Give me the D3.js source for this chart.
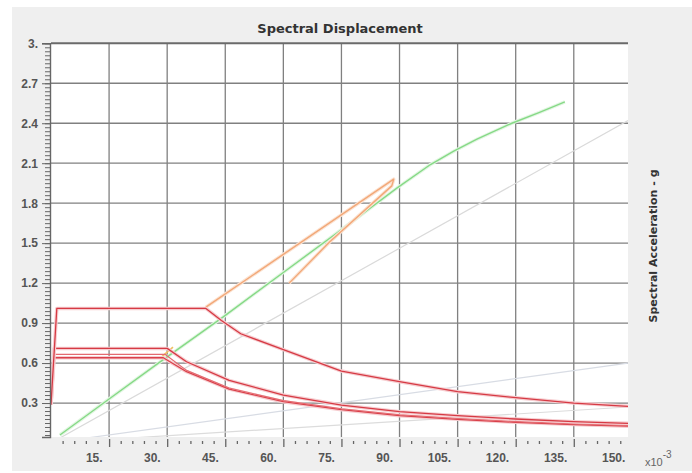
<!DOCTYPE html>
<html>
<head>
<meta charset="utf-8">
<script src="https://cdn.jsdelivr.net/npm/d3@7"></script>
<style>
  body { margin: 0; background: #fff; }
  svg { display: block; }
  text { font-family: "DejaVu Sans", sans-serif; }
</style>
</head>
<body>
<script>
// axis ticks
const dispTicks = [15, 30, 45, 60, 75, 90, 105, 120, 135, 150];
const accTicks = [0.3, 0.6, 0.9, 1.2, 1.5, 1.8, 2.1, 2.4, 2.7, 3];

// capacity curve (green)
const capSd = [2.3, 15, 28, 44.4, 60, 75.4, 89.4, 98, 104, 110, 119, 126, 132.7];
const capSa = [0.06, 0.33, 0.605, 0.945, 1.28, 1.61, 1.915, 2.09, 2.19, 2.28, 2.4, 2.48, 2.56];

// single demand / performance lines (orange)
const orangeSd = [40, 88.5, 88, 72, 61.5];
const orangeSa = [1.02, 1.98, 1.93, 1.51, 1.2];
const orangeTickSd = [28.5, 31.5];
const orangeTickSa = [0.645, 0.72];

// demand spectra (red)
const demandSd = [0, 1.5, 40, 44, 49, 60, 75, 90, 105, 120, 135, 149];
const demandSa = [0.29, 1.01, 1.01, 0.92, 0.82, 0.7, 0.54, 0.46, 0.385, 0.34, 0.3, 0.275];
const demand2Sd = [0, 0.8, 30, 35, 46, 60, 75, 90, 105, 120, 135, 149];
const demand2Sa = [0.29, 0.71, 0.71, 0.61, 0.47, 0.36, 0.285, 0.235, 0.205, 0.18, 0.16, 0.148];
const demand3Sd = [0, 0.8, 29.5, 35, 46, 60, 75, 90, 105, 120, 135, 149];
const demand3Sa = [0.29, 0.665, 0.665, 0.545, 0.413, 0.318, 0.257, 0.212, 0.184, 0.161, 0.144, 0.132];
const demand4Sd = [0, 0.8, 29, 35, 46, 60, 75, 90, 105, 120, 135, 149];
const demand4Sa = [0.29, 0.64, 0.64, 0.535, 0.405, 0.31, 0.25, 0.205, 0.178, 0.155, 0.138, 0.126];

// constant period lines (light gray)
const periodSd = [0, 149];
const period05Sa = [0, 2.42];
const period10Sa = [0, 0.6];
const period15Sa = [0, 0.27];

const width = 692, height = 473;
const svg = d3.select("body").append("svg")
  .attr("width", width)
  .attr("height", height);

// panel background
svg.append("rect")
  .attr("x", 12).attr("y", 7)
  .attr("width", width - 12).attr("height", 464)
  .attr("fill", "#efefef");

const x = d3.scaleLinear().domain([0, 149]).range([51, 628]);
const y = d3.scaleLinear().domain([0.045, 3]).range([437, 43.3]);

svg.append("rect")
  .attr("x", x(0)).attr("y", y(3))
  .attr("width", x(149) - x(0)).attr("height", y(0.045) - y(3))
  .attr("fill", "#fff");

svg.append("clipPath").attr("id", "plot-clip")
  .append("rect")
  .attr("x", x(0)).attr("y", y(3))
  .attr("width", x(149) - x(0)).attr("height", y(0.045) - y(3));

// grid
const grid = svg.append("g");
grid.selectAll(".vgrid")
  .data(dispTicks.filter(d => d < 149))
  .enter().append("line")
  .attr("x1", d => x(d)).attr("x2", d => x(d))
  .attr("y1", y(3)).attr("y2", y(0.045))
  .style("stroke", "#808080")
  .style("stroke-width", 1.3);
grid.selectAll(".hgrid")
  .data(accTicks)
  .enter().append("line")
  .attr("x1", x(0)).attr("x2", x(149))
  .attr("y1", d => y(d)).attr("y2", d => y(d))
  .style("stroke", d => d === 3 ? "#6a6a6a" : "#808080")
  .style("stroke-width", d => d === 3 ? 2 : 1.3);

const line = d3.line().x(d => x(d[0])).y(d => y(d[1]));
const plot = svg.append("g").attr("clip-path", "url(#plot-clip)");

function drawSeries(sd, sa, color, halo, w) {
  const pts = d3.zip(sd, sa);
  if (halo) {
    plot.append("path")
      .attr("d", line(pts))
      .style("fill", "none")
      .style("stroke", halo)
      .style("stroke-width", 3.5)
      .style("stroke-linejoin", "round");
  }
  plot.append("path")
    .attr("d", line(pts))
    .style("fill", "none")
    .style("stroke", color)
    .style("stroke-width", w)
    .style("stroke-linejoin", "round");
}

drawSeries(periodSd, period05Sa, "#dadada", null, 1.2);
drawSeries(periodSd, period10Sa, "#d8dce4", null, 1.2);
drawSeries(periodSd, period15Sa, "#dcdcdc", null, 1.2);

drawSeries(capSd, capSa, "#86d986", "#e3f6e3", 1.4);
drawSeries(orangeSd, orangeSa, "#f2a878", "#fbe3d3", 1.4);
drawSeries(orangeTickSd, orangeTickSa, "#f0c060", null, 1.6);

drawSeries(demand4Sd, demand4Sa, "#d9404a", "#f6cdd0", 1.3);
drawSeries(demand3Sd, demand3Sa, "#e46a70", null, 1.2);
drawSeries(demand2Sd, demand2Sa, "#d63a44", "#f6cdd0", 1.3);
drawSeries(demandSd, demandSa, "#d63a44", "#f6cdd0", 1.3);

// y axis
const minorY = d3.range(2, 101).map(i => +(i * 0.03).toFixed(2)).filter(d => d >= 0.045);
svg.append("g")
  .attr("transform", `translate(${x(0) - 1},0)`)
  .call(d3.axisLeft(y).tickValues(minorY).tickSize(5).tickFormat(""))
  .call(g => g.select(".domain").remove())
  .selectAll("line").style("stroke", "#666");

const yAxis = svg.append("g")
  .attr("transform", `translate(${x(0) - 1},0)`)
  .call(d3.axisLeft(y).tickValues(accTicks).tickSize(8).tickPadding(4)
    .tickFormat(d => d === 3 ? "3." : d3.format(".1f")(d)));
yAxis.select(".domain").style("stroke", "#666").style("stroke-width", 1.4);
yAxis.selectAll("line").style("stroke", "#666");
yAxis.selectAll("text")
  .style("font-family", "'Liberation Sans', Arial, sans-serif")
  .style("font-weight", "bold")
  .style("font-size", "12px")
  .style("fill", "#555");

// x axis
const minorX = d3.range(1, 50).map(i => i * 3).filter(d => d % 15 !== 0 && d < 149);
svg.append("g")
  .attr("transform", "translate(0,441)")
  .call(d3.axisBottom(x).tickValues(minorX).tickSize(3).tickFormat(""))
  .call(g => g.select(".domain").remove())
  .selectAll("line").style("stroke", "#666").style("stroke-width", 1.3);

const xAxis = svg.append("g")
  .attr("transform", "translate(0,439)")
  .call(d3.axisBottom(x).tickValues(dispTicks).tickSize(8).tickPadding(6)
    .tickFormat(d => d + "."));
xAxis.select(".domain").remove();
xAxis.selectAll(".tick").filter(d => d > 149).select("line").remove();
xAxis.selectAll("line").style("stroke", "#666").style("stroke-width", 1.3);
xAxis.selectAll("text")
  .attr("text-anchor", "end")
  .attr("dx", -7)
  .style("font-family", "'Liberation Sans', Arial, sans-serif")
  .style("font-weight", "bold")
  .style("font-size", "12px")
  .style("fill", "#555");

// exponent label
const expo = svg.append("text")
  .attr("x", 645).attr("y", 466)
  .style("font-family", "'Liberation Sans', Arial, sans-serif")
  .style("font-size", "11px")
  .style("fill", "#666");
expo.append("tspan").text("x10");
expo.append("tspan").attr("dy", -8).style("font-size", "10px").text("-3");

// titles
svg.append("text")
  .attr("x", 340).attr("y", 33)
  .attr("text-anchor", "middle")
  .style("font-weight", "bold")
  .style("font-size", "13px")
  .style("fill", "#333")
  .text("Spectral Displacement");

svg.append("text")
  .attr("transform", "translate(657,246) rotate(-90)")
  .attr("text-anchor", "middle")
  .style("font-weight", "bold")
  .style("font-size", "11px")
  .style("fill", "#333")
  .text("Spectral Acceleration - g");
</script>
</body>
</html>
